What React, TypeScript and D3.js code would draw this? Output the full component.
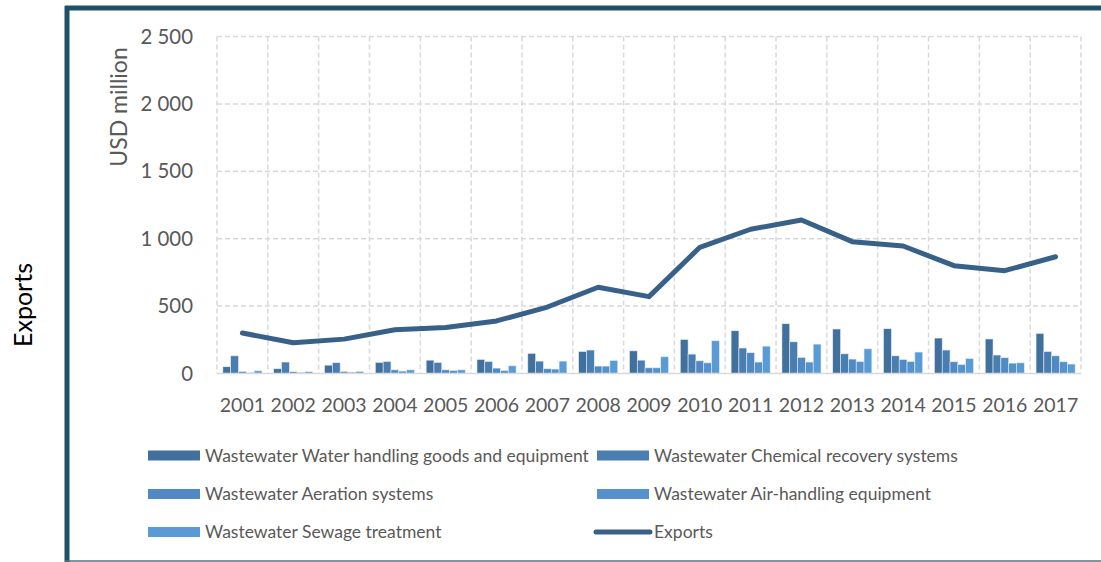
import React from "react";
import * as d3 from "d3";

// Wastewater equipment exports, USD million
const years = [
  "2001", "2002", "2003", "2004", "2005", "2006", "2007", "2008", "2009",
  "2010", "2011", "2012", "2013", "2014", "2015", "2016", "2017",
];

const waterHandling = [50, 35, 62, 82, 99, 104, 149, 163, 168, 252, 317, 369, 330, 332, 263, 256, 297];
const chemicalRecovery = [131, 85, 80, 89, 82, 89, 92, 174, 99, 144, 189, 235, 146, 131, 174, 137, 163];
const aeration = [15, 13, 15, 27, 27, 40, 35, 55, 42, 94, 154, 119, 107, 104, 87, 117, 131];
const airHandling = [6, 8, 10, 18, 22, 22, 33, 55, 42, 79, 85, 85, 89, 89, 67, 77, 87];
const sewage = [20, 13, 15, 27, 27, 57, 92, 97, 124, 243, 203, 218, 183, 159, 111, 79, 70];
const exportsTotal = [300, 228, 255, 325, 342, 390, 493, 640, 570, 936, 1070, 1139, 978, 946, 800, 763, 866];

const yTicks = [0, 500, 1000, 1500, 2000, 2500];

const barSeries = [
  { name: "Wastewater Water handling goods and equipment", values: waterHandling, color: "#41709C" },
  { name: "Wastewater Chemical recovery systems", values: chemicalRecovery, color: "#4A7DB0" },
  { name: "Wastewater Aeration systems", values: aeration, color: "#5089C4" },
  { name: "Wastewater Air-handling equipment", values: airHandling, color: "#5592CD" },
  { name: "Wastewater Sewage treatment", values: sewage, color: "#5B9BD5" },
];

const lineName = "Exports";
const lineColor = "#386189";
const frameColor = "#1E5168";
const gridColor = "#D9D9D9";
const textColor = "#595959";
const font = "Lato, 'Open Sans', sans-serif";

const W = 1101;
const H = 562;
const plot = { left: 217, right: 1081, top: 36.5, bottom: 373.5 };

export default function App() {
  const x = d3.scaleBand<string>().domain(years).range([plot.left, plot.right]).padding(0);
  const y = d3.scaleLinear().domain([0, 2500]).range([plot.bottom, plot.top]);

  // Excel-style clustered bars: 150% gap width
  const groupWidth = (x.bandwidth() * 5) / 6.5;
  const inner = d3
    .scaleBand<number>()
    .domain(d3.range(barSeries.length))
    .range([0, groupWidth])
    .padding(0);
  const groupOffset = (x.bandwidth() - groupWidth) / 2;

  const line = d3
    .line<number>()
    .x((_, i) => (x(years[i]) as number) + x.bandwidth() / 2)
    .y((v) => y(v));

  const boundaries = d3.range(years.length + 1).map((i) => plot.left + i * x.step());

  const legendItems = [
    ...barSeries.map((s) => ({ name: s.name, color: s.color, kind: "bar" })),
    { name: lineName, color: lineColor, kind: "line" },
  ];
  const legendCols = [148, 597];
  const legendRows = [455.5, 494, 532];

  return (
    <svg
      width={W}
      height={H}
      style={{ position: "fixed", left: 0, top: 0, background: "#fff" }}
      fontFamily={font}
    >
      {/* frame */}
      <rect x={0} y={0} width={W} height={H} fill="#fff" />
      <line x1={65} x2={W} y1={8} y2={8} stroke={frameColor} strokeWidth={5} />
      <line x1={67} x2={67} y1={6} y2={H} stroke={frameColor} strokeWidth={5} />
      <line x1={65} x2={W} y1={561} y2={561} stroke="#4F7580" strokeWidth={1.5} />

      {/* outer title */}
      <text
        transform="translate(23,305) rotate(-90)"
        textAnchor="middle"
        dy="0.35em"
        fontSize={25}
        fill="#000"
      >
        {lineName}
      </text>

      {/* grid */}
      {yTicks
        .filter((t) => t > 0)
        .map((t) => (
          <line
            key={`h${t}`}
            x1={plot.left}
            x2={plot.right}
            y1={y(t)}
            y2={y(t)}
            stroke={gridColor}
            strokeWidth={1.5}
            strokeDasharray="5 3"
          />
        ))}
      {boundaries.map((bx, i) => (
        <line
          key={`v${i}`}
          x1={bx}
          x2={bx}
          y1={plot.top}
          y2={plot.bottom}
          stroke={gridColor}
          strokeWidth={1.5}
          strokeDasharray="5 3"
        />
      ))}

      {/* bars */}
      {barSeries.map((s, si) =>
        s.values.map((v, i) => (
          <rect
            key={`b${si}-${i}`}
            x={(x(years[i]) as number) + groupOffset + (inner(si) as number)}
            y={y(v)}
            width={inner.bandwidth()}
            height={plot.bottom - y(v)}
            fill={s.color}
            stroke="#E4ECF5"
            strokeWidth={0.6}
          />
        ))
      )}

      {/* baseline */}
      <line
        x1={plot.left}
        x2={plot.right}
        y1={plot.bottom}
        y2={plot.bottom}
        stroke={gridColor}
        strokeWidth={1.5}
      />

      {/* exports line */}
      <path
        d={line(exportsTotal) as string}
        fill="none"
        stroke={lineColor}
        strokeWidth={5}
        strokeLinejoin="round"
        strokeLinecap="round"
      />

      {/* y axis */}
      {yTicks.map((t) => (
        <text
          key={`yt${t}`}
          x={193}
          y={y(t)}
          dy="0.35em"
          textAnchor="end"
          fontSize={20.4}
          fill={textColor}
        >
          {d3.format(",")(t).replace(/,/g, " ")}
        </text>
      ))}
      <text
        transform="translate(119,107) rotate(-90)"
        textAnchor="middle"
        dy="0.35em"
        fontSize={23}
        fill={textColor}
      >
        USD million
      </text>

      {/* x axis */}
      {years.map((yr) => (
        <text
          key={`xt${yr}`}
          x={(x(yr) as number) + x.bandwidth() / 2}
          y={412}
          textAnchor="middle"
          fontSize={19.5}
          fill={textColor}
        >
          {yr}
        </text>
      ))}

      {/* legend */}
      {legendItems.map((it, i) => {
        const lx = legendCols[i % 2];
        const ly = legendRows[Math.floor(i / 2)];
        return (
          <g key={`lg${i}`}>
            {it.kind === "bar" ? (
              <rect x={lx} y={ly - 5} width={52} height={10} fill={it.color} />
            ) : (
              <line
                x1={lx - 1}
                x2={lx + 53}
                y1={ly}
                y2={ly}
                stroke={it.color}
                strokeWidth={5}
                strokeLinecap="round"
              />
            )}
            <text x={lx + 57} y={ly} dy="0.35em" fontSize={17.5} fill={textColor}>
              {it.name}
            </text>
          </g>
        );
      })}
    </svg>
  );
}
